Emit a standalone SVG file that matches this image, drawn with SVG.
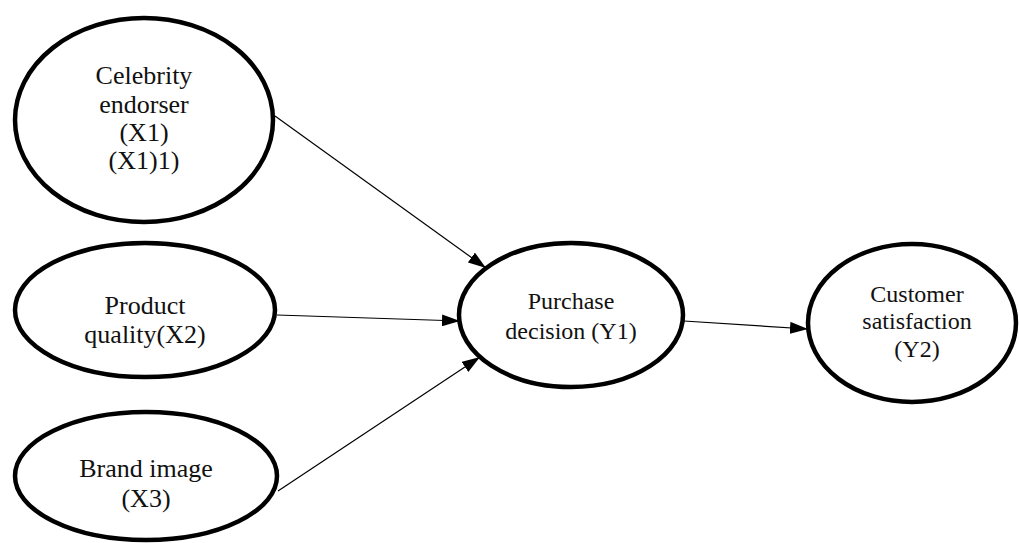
<svg xmlns="http://www.w3.org/2000/svg" width="1019" height="543" viewBox="0 0 1019 543">
<style>
.node{fill:#fff;stroke:#000;stroke-width:4.5}
.t{font-family:"Liberation Serif","Times New Roman",serif;fill:#111;text-anchor:middle}
.big{font-size:26px}
.sm{font-size:24px}
.conn line{stroke:#000;stroke-width:1.2}
</style>
<defs>
<marker id="ah" viewBox="0 0 18 12" refX="18" refY="6" markerWidth="18" markerHeight="12" markerUnits="userSpaceOnUse" orient="auto">
<path d="M0,0 L18,6 L0,12 z" fill="#000"/>
</marker>
</defs>
<rect width="1019" height="543" fill="#fff"/>
<g class="conn">
<line x1="275" y1="116" x2="486" y2="268" marker-end="url(#ah)"/>
<line x1="277" y1="315" x2="460" y2="321" marker-end="url(#ah)"/>
<line x1="278" y1="491" x2="480" y2="357" marker-end="url(#ah)"/>
<line x1="684" y1="321" x2="808" y2="329" marker-end="url(#ah)"/>
</g>
<g id="celebrity">
<ellipse class="node" cx="144" cy="120" rx="129" ry="102"/>
<text class="t big" x="144" y="84">Celebrity</text>
<text class="t big" x="144" y="113">endorser</text>
<text class="t big" x="144" y="141">(X1)</text>
<text class="t big" x="144" y="169">(X1)1)</text>
</g>
<g id="product">
<ellipse class="node" cx="145" cy="310" rx="130" ry="67"/>
<text class="t big" x="145" y="314">Product</text>
<text class="t big" x="145" y="343">quality(X2)</text>
</g>
<g id="brand">
<ellipse class="node" cx="146" cy="476" rx="131" ry="64"/>
<text class="t big" x="146" y="477">Brand image</text>
<text class="t big" x="146" y="507">(X3)</text>
</g>
<g id="purchase">
<ellipse class="node" cx="571" cy="315" rx="112" ry="72"/>
<text class="t sm" x="571" y="309">Purchase</text>
<text class="t sm" x="571" y="339">decision (Y1)</text>
</g>
<g id="customer">
<ellipse class="node" cx="912" cy="323" rx="104" ry="79"/>
<text class="t sm" x="917" y="302">Customer</text>
<text class="t sm" x="917" y="329">satisfaction</text>
<text class="t sm" x="917" y="357">(Y2)</text>
</g>
</svg>
